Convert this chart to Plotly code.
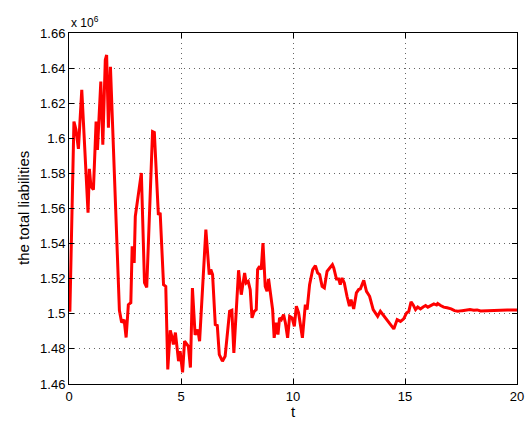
import plotly.graph_objects as go

# time points
t = [0.0, 0.04, 0.22, 0.31, 0.42, 0.57, 0.85, 0.91, 0.98, 1.09, 1.21, 1.27, 1.42, 1.51,
     1.62, 1.68, 1.76, 1.85, 2.25, 2.35, 2.46, 2.55, 2.65, 2.76, 2.82, 2.91, 2.96, 3.07,
     3.14, 3.23, 3.37, 3.47, 3.73, 3.81, 3.99, 4.07, 4.22, 4.32, 4.41, 4.52, 4.59, 4.66,
     4.75, 4.89, 4.96, 5.07, 5.16, 5.33, 5.42, 5.51, 5.63, 5.75, 5.83, 5.93, 6.11, 6.26,
     6.33, 6.41, 6.53, 6.62, 6.71, 6.85, 6.97, 7.17, 7.27, 7.36, 7.57, 7.69, 7.84, 7.91,
     8.0, 8.09, 8.17, 8.27, 8.36, 8.42, 8.51, 8.58, 8.66, 8.76, 8.84, 8.91, 9.02, 9.09,
     9.16, 9.25, 9.33, 9.40, 9.48, 9.58, 9.66, 9.76, 9.85, 9.96, 10.06, 10.15, 10.25,
     10.42, 10.55, 10.63, 10.74, 10.88, 11.0, 11.10, 11.19, 11.30, 11.40, 11.52, 11.64,
     11.76, 11.82, 11.94, 12.04, 12.11, 12.19, 12.29, 12.41, 12.52, 12.59, 12.71, 12.83,
     12.93, 13.01, 13.16, 13.28, 13.42, 13.58, 13.72, 13.78, 13.90, 14.02, 14.17, 14.32,
     14.50, 14.65, 14.80, 14.94, 15.07, 15.17, 15.27, 15.36, 15.47, 15.57, 15.69, 15.81,
     15.92, 16.02, 16.14, 16.29, 16.41, 16.46, 16.59, 16.73, 16.88, 17.06, 17.21, 17.36,
     17.55, 17.70, 17.90, 18.07, 18.22, 18.37, 18.67, 18.97, 19.27, 19.57, 19.87, 20.0]

# total liabilities, in units of 10^6
liabilities = [1.502, 1.502, 1.6095, 1.605, 1.594, 1.6276, 1.5576, 1.5826, 1.5726, 1.5707,
               1.6095, 1.5934, 1.6323, 1.5963, 1.6446, 1.6475, 1.606, 1.6408, 1.502, 1.495,
               1.4967, 1.4865, 1.5052, 1.5063, 1.5384, 1.529, 1.5555, 1.566, 1.5697, 1.5802,
               1.5177, 1.515, 1.6038, 1.6033, 1.5564, 1.5576, 1.5166, 1.5156, 1.4683, 1.4906,
               1.4872, 1.4825, 1.4893, 1.473, 1.4787, 1.4666, 1.4844, 1.4815, 1.4694, 1.5147,
               1.488, 1.491, 1.4844, 1.5063, 1.548, 1.5223, 1.5252, 1.5223, 1.4939, 1.4933,
               1.4768, 1.473, 1.4758, 1.5014, 1.502, 1.4777, 1.5248, 1.5109, 1.5233, 1.5176,
               1.5185, 1.5137, 1.4977, 1.5014, 1.5024, 1.5252, 1.527, 1.5252, 1.5403, 1.5156,
               1.5128, 1.5198, 1.5071, 1.5024, 1.4863, 1.4949, 1.4882, 1.4977, 1.4967, 1.4995,
               1.4949, 1.4863, 1.4986, 1.4977, 1.4929, 1.5043, 1.5005, 1.4863, 1.5052, 1.5024,
               1.5166, 1.5252, 1.5274, 1.5233, 1.5223, 1.5156, 1.5147, 1.5242, 1.5261, 1.528,
               1.5261, 1.5198, 1.5198, 1.5166, 1.5204, 1.5176, 1.51, 1.5043, 1.5081, 1.5028,
               1.5119, 1.5138, 1.5142, 1.5191, 1.5128, 1.51, 1.5024, 1.4995, 1.4986, 1.5014,
               1.4995, 1.4967, 1.4944, 1.4914, 1.4967, 1.4957, 1.4971, 1.5005, 1.5014, 1.5068,
               1.5052, 1.5024, 1.5039, 1.5028, 1.5039, 1.5047, 1.5038, 1.5047, 1.5056, 1.505,
               1.5058, 1.5047, 1.5038, 1.5034, 1.5028, 1.5018, 1.5014, 1.5018, 1.502, 1.5024,
               1.502, 1.5022, 1.5016, 1.5016, 1.5018, 1.502, 1.5022, 1.5022, 1.5022]

x_ticks = [0, 5, 10, 15, 20]
y_ticks = [1.46, 1.48, 1.50, 1.52, 1.54, 1.56, 1.58, 1.60, 1.62, 1.64, 1.66]
y_tick_labels = ["1.46", "1.48", "1.5", "1.52", "1.54", "1.56", "1.58", "1.6", "1.62", "1.64", "1.66"]

FONT = "Liberation Sans, Arial"

fig = go.Figure()
fig.add_trace(go.Scatter(x=t, y=liabilities, mode="lines",
                         line=dict(color="#ff0000", width=3), showlegend=False))

axis_common = dict(showline=True, linecolor="black", linewidth=1, mirror="ticks",
                   ticks="inside", ticklen=5, tickcolor="black", automargin=False,
                   showgrid=True, gridcolor="#666666", gridwidth=1, griddash="1px,4px",
                   zeroline=False, tickfont=dict(family=FONT, size=13, color="black"))

fig.update_xaxes(range=[0, 20], tickvals=x_ticks, ticktext=[str(v) for v in x_ticks],
                 **axis_common)
fig.update_yaxes(range=[1.46, 1.66], tickvals=y_ticks, ticktext=y_tick_labels,
                 **axis_common)

# axis titles
fig.add_annotation(xref="paper", yref="paper", x=0.5, y=0, xanchor="center", yanchor="top",
                   yshift=-17, text="t", showarrow=False,
                   font=dict(family=FONT, size=15, color="black"))
fig.add_annotation(xref="paper", yref="paper", x=0, y=0.5, xanchor="right", yanchor="middle",
                   xshift=-35, textangle=-90, text="the total liabilities", showarrow=False,
                   font=dict(family=FONT, size=15, color="black"))
# exponent label
fig.add_annotation(xref="paper", yref="paper", x=0, y=1, xanchor="left", yanchor="bottom",
                   text="x 10<sup>6</sup>", showarrow=False, yshift=1,
                   font=dict(family=FONT, size=12, color="black"))

fig.update_layout(width=527, height=421, margin=dict(l=69, r=10, t=33, b=37),
                  plot_bgcolor="white", paper_bgcolor="white")

fig.write_html("out.html")
